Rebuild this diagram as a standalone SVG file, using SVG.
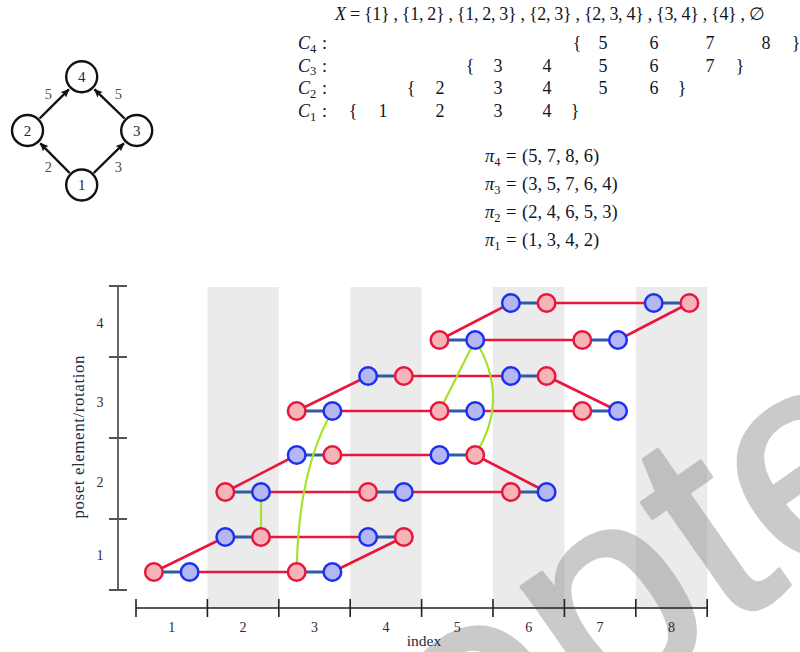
<svg xmlns="http://www.w3.org/2000/svg" width="800" height="652" viewBox="0 0 800 652">
<defs>
<style>
.m{font-family:"Liberation Serif","DejaVu Serif",serif;font-size:18px;fill:#111526}
.p{font-family:"Liberation Serif","DejaVu Serif",serif;font-size:18.5px;fill:#111526}
.lab{font-family:"Liberation Serif","DejaVu Serif",serif;font-size:14px;fill:#262b3d;text-anchor:middle}
.hn{font-family:"Liberation Serif","DejaVu Serif",serif;font-size:15px;fill:#1f2440;text-anchor:middle}
.he{font-family:"Liberation Serif","DejaVu Serif",serif;font-size:14.5px;fill:#5e4a38;text-anchor:middle}
.hc{fill:#fff;stroke:#111;stroke-width:2.4}
.ha{stroke:#111;stroke-width:2.4;fill:none;marker-end:url(#arr)}
.r{fill:#f6b4b9;stroke:#e8163c;stroke-width:2.5}
.b{fill:#b5b7f3;stroke:#1c30f2;stroke-width:2.5}
.rl{stroke:#e8163c;stroke-width:2.6;fill:none}
.bl{stroke:#2d5ca6;stroke-width:3;fill:none}
.gl{stroke:#a4e22c;stroke-width:2.2;fill:none}
.band{fill:#ebebeb}
.ax{stroke:#222;stroke-width:1.6;fill:none}
.ay{stroke:#555;stroke-width:1.8;fill:none}
.sub{font-size:12.5px}
</style>
<marker id="arr" markerUnits="userSpaceOnUse" markerWidth="10" markerHeight="10" viewBox="0 -5 10 10" refX="8" refY="0" orient="auto">
<path d="M0,-3.8 L9,0 L0,3.8 L2,0 Z" fill="#111"/>
</marker>
</defs>
<rect width="800" height="652" fill="#fff"/>

<!-- background bands -->
<g id="bands">
<rect class="band" x="207.4" y="287" width="71.4" height="321"/>
<rect class="band" x="350.2" y="287" width="71.4" height="321"/>
<rect class="band" x="493" y="287" width="71.4" height="321"/>
<rect class="band" x="635.8" y="287" width="71.4" height="321"/>
</g>

<!-- watermark -->
<g id="watermark" opacity="0.48">
<text transform="translate(66,1093) rotate(-35)" font-family="Liberation Sans, Arial, sans-serif" font-size="290" fill="#919191" stroke="#919191" stroke-width="4" stroke-linejoin="round">Accepted</text>
</g>

<!-- Hasse diagram -->
<g id="hasse-edges">
<line class="ha" x1="69.7" y1="173" x2="40.3" y2="143.3"/>
<line class="ha" x1="93.7" y1="173" x2="123.9" y2="143.3"/>
<line class="ha" x1="39.6" y1="118.5" x2="68.9" y2="89.4"/>
<line class="ha" x1="124.6" y1="118.5" x2="94.5" y2="89.4"/>
<text class="he" x="48.3" y="98.5">5</text>
<text class="he" x="118.3" y="98.5">5</text>
<text class="he" x="48.3" y="172">2</text>
<text class="he" x="118.3" y="172">3</text>
</g>
<g id="h4"><circle class="hc" cx="81.7" cy="76.7" r="15.5"/><text class="hn" x="81.7" y="82">4</text></g>
<g id="h2"><circle class="hc" cx="27.5" cy="130.5" r="15.5"/><text class="hn" x="27.5" y="135.8">2</text></g>
<g id="h3"><circle class="hc" cx="136.7" cy="130.5" r="15.5"/><text class="hn" x="136.7" y="135.8">3</text></g>
<g id="h1"><circle class="hc" cx="81.7" cy="185" r="15.5"/><text class="hn" x="81.7" y="190.3">1</text></g>

<!-- math text -->
<g id="math">
<text class="m" x="335" y="20" textLength="430" lengthAdjust="spacing"><tspan font-style="italic">X</tspan> = {1} , {1, 2} , {1, 2, 3} , {2, 3} , {2, 3, 4} , {3, 4} , {4} , ∅</text>
<text class="m" x="298" y="49"><tspan font-style="italic">C</tspan><tspan class="sub" dy="3.5">4</tspan><tspan x="322" dy="-3.5">:</tspan></text>
<text class="m" x="298" y="71.5"><tspan font-style="italic">C</tspan><tspan class="sub" dy="3.5">3</tspan><tspan x="322" dy="-3.5">:</tspan></text>
<text class="m" x="298" y="94"><tspan font-style="italic">C</tspan><tspan class="sub" dy="3.5">2</tspan><tspan x="322" dy="-3.5">:</tspan></text>
<text class="m" x="298" y="117"><tspan font-style="italic">C</tspan><tspan class="sub" dy="3.5">1</tspan><tspan x="322" dy="-3.5">:</tspan></text>
<g text-anchor="middle">
<text class="m" y="49"><tspan x="577">{</tspan><tspan x="603">5</tspan><tspan x="654">6</tspan><tspan x="710">7</tspan><tspan x="766">8</tspan><tspan x="796">}</tspan></text>
<text class="m" y="71.5"><tspan x="470">{</tspan><tspan x="498">3</tspan><tspan x="547">4</tspan><tspan x="603">5</tspan><tspan x="654">6</tspan><tspan x="710">7</tspan><tspan x="740">}</tspan></text>
<text class="m" y="94"><tspan x="411">{</tspan><tspan x="440">2</tspan><tspan x="498">3</tspan><tspan x="547">4</tspan><tspan x="603">5</tspan><tspan x="654">6</tspan><tspan x="682">}</tspan></text>
<text class="m" y="117"><tspan x="353">{</tspan><tspan x="383">1</tspan><tspan x="440">2</tspan><tspan x="498">3</tspan><tspan x="547">4</tspan><tspan x="575">}</tspan></text>
</g>
<text class="p" x="485" y="162"><tspan font-style="italic">π</tspan><tspan class="sub" dy="4">4</tspan><tspan x="506" dy="-4">=</tspan><tspan x="522">(5, 7, 8, 6)</tspan></text>
<text class="p" x="485" y="190"><tspan font-style="italic">π</tspan><tspan class="sub" dy="4">3</tspan><tspan x="506" dy="-4">=</tspan><tspan x="522">(3, 5, 7, 6, 4)</tspan></text>
<text class="p" x="485" y="218"><tspan font-style="italic">π</tspan><tspan class="sub" dy="4">2</tspan><tspan x="506" dy="-4">=</tspan><tspan x="522">(2, 4, 6, 5, 3)</tspan></text>
<text class="p" x="485" y="246"><tspan font-style="italic">π</tspan><tspan class="sub" dy="4">1</tspan><tspan x="506" dy="-4">=</tspan><tspan x="522">(1, 3, 4, 2)</tspan></text>
</g>

<!-- axes -->
<g id="axes">
<path class="ay" d="M118,286 V590 M109,286 H127 M109,357 H127 M109,438 H127 M109,519 H127 M109,590 H127"/>
<path class="ax" d="M136,608 H707.2 M136,599 V617 M207.4,599 V617 M278.8,599 V617 M350.2,599 V617 M421.6,599 V617 M493,599 V617 M564.4,599 V617 M635.8,599 V617 M707.2,599 V617"/>
<text class="lab" x="100" y="560">1</text>
<text class="lab" x="100" y="487">2</text>
<text class="lab" x="100" y="407">3</text>
<text class="lab" x="100" y="328">4</text>
<text class="lab" x="171.7" y="632">1</text>
<text class="lab" x="243.1" y="632">2</text>
<text class="lab" x="314.5" y="632">3</text>
<text class="lab" x="385.9" y="632">4</text>
<text class="lab" x="457.3" y="632">5</text>
<text class="lab" x="528.7" y="632">6</text>
<text class="lab" x="600.1" y="632">7</text>
<text class="lab" x="671.5" y="632">8</text>
<text class="lab" x="424" y="646" style="font-size:15.5px">index</text>
<text class="lab" transform="translate(84,437) rotate(-90)" style="font-size:17px" textLength="163" lengthAdjust="spacing">poset element/rotation</text>
</g>

<!-- connectors -->
<g id="connectors">
<path class="rl" d="M189.6,572 L296.7,572 M153.9,572 L225.3,537 M261,537 L368.1,537 M332.4,572 L403.8,537"/>
<path class="rl" d="M261,492 L368.1,492 M403.8,492 L510.9,492 M225.3,492 L296.7,455 M332.4,455 L439.5,455 M475.2,455 L546.6,492"/>
<path class="rl" d="M332.4,411 L439.5,411 M475.2,411 L582.3,411 M296.7,411 L368.1,376 M403.8,376 L510.9,376 M546.6,376 L618,411"/>
<path class="rl" d="M475.2,340 L582.3,340 M439.5,340 L510.9,303 M546.6,303 L653.7,303 M689.4,303 L618,340"/>
<path class="bl" d="M153.9,572 H189.6 M296.7,572 H332.4 M225.3,537 H261 M368.1,537 H403.8"/>
<path class="bl" d="M225.3,492 H261 M368.1,492 H403.8 M510.9,492 H546.6 M296.7,455 H332.4 M439.5,455 H475.2"/>
<path class="bl" d="M296.7,411 H332.4 M439.5,411 H475.2 M582.3,411 H618 M368.1,376 H403.8 M510.9,376 H546.6"/>
<path class="bl" d="M439.5,340 H475.2 M582.3,340 H618 M510.9,303 H546.6 M653.7,303 H689.4"/>
<path class="gl" d="M261,537 L261,492"/>
<path class="gl" d="M296.7,572 Q298,470 332.4,411"/>
<path class="gl" d="M475.2,455 Q511,398 475.2,340"/>
<path class="gl" d="M439.5,411 L475.2,340"/>
</g>

<!-- nodes -->
<g id="n1a1"><circle class="r" cx="153.9" cy="572" r="8.8"/></g>
<g id="n1a2"><circle class="b" cx="189.6" cy="572" r="8.8"/></g>
<g id="n1a3"><circle class="r" cx="296.7" cy="572" r="8.8"/></g>
<g id="n1a4"><circle class="b" cx="332.4" cy="572" r="8.8"/></g>
<g id="n1b1"><circle class="b" cx="225.3" cy="537" r="8.8"/></g>
<g id="n1b2"><circle class="r" cx="261" cy="537" r="8.8"/></g>
<g id="n1b3"><circle class="b" cx="368.1" cy="537" r="8.8"/></g>
<g id="n1b4"><circle class="r" cx="403.8" cy="537" r="8.8"/></g>

<g id="n2a1"><circle class="r" cx="225.3" cy="492" r="8.8"/></g>
<g id="n2a2"><circle class="b" cx="261" cy="492" r="8.8"/></g>
<g id="n2a3"><circle class="r" cx="368.1" cy="492" r="8.8"/></g>
<g id="n2a4"><circle class="b" cx="403.8" cy="492" r="8.8"/></g>
<g id="n2a5"><circle class="r" cx="510.9" cy="492" r="8.8"/></g>
<g id="n2a6"><circle class="b" cx="546.6" cy="492" r="8.8"/></g>
<g id="n2b1"><circle class="b" cx="296.7" cy="455" r="8.8"/></g>
<g id="n2b2"><circle class="r" cx="332.4" cy="455" r="8.8"/></g>
<g id="n2b3"><circle class="b" cx="439.5" cy="455" r="8.8"/></g>
<g id="n2b4"><circle class="r" cx="475.2" cy="455" r="8.8"/></g>

<g id="n3a1"><circle class="r" cx="296.7" cy="411" r="8.8"/></g>
<g id="n3a2"><circle class="b" cx="332.4" cy="411" r="8.8"/></g>
<g id="n3a3"><circle class="r" cx="439.5" cy="411" r="8.8"/></g>
<g id="n3a4"><circle class="b" cx="475.2" cy="411" r="8.8"/></g>
<g id="n3a5"><circle class="r" cx="582.3" cy="411" r="8.8"/></g>
<g id="n3a6"><circle class="b" cx="618" cy="411" r="8.8"/></g>
<g id="n3b1"><circle class="b" cx="368.1" cy="376" r="8.8"/></g>
<g id="n3b2"><circle class="r" cx="403.8" cy="376" r="8.8"/></g>
<g id="n3b3"><circle class="b" cx="510.9" cy="376" r="8.8"/></g>
<g id="n3b4"><circle class="r" cx="546.6" cy="376" r="8.8"/></g>

<g id="n4a1"><circle class="r" cx="439.5" cy="340" r="8.8"/></g>
<g id="n4a2"><circle class="b" cx="475.2" cy="340" r="8.8"/></g>
<g id="n4a3"><circle class="r" cx="582.3" cy="340" r="8.8"/></g>
<g id="n4a4"><circle class="b" cx="618" cy="340" r="8.8"/></g>
<g id="n4b1"><circle class="b" cx="510.9" cy="303" r="8.8"/></g>
<g id="n4b2"><circle class="r" cx="546.6" cy="303" r="8.8"/></g>
<g id="n4b3"><circle class="b" cx="653.7" cy="303" r="8.8"/></g>
<g id="n4b4"><circle class="r" cx="689.4" cy="303" r="8.8"/></g>
</svg>
